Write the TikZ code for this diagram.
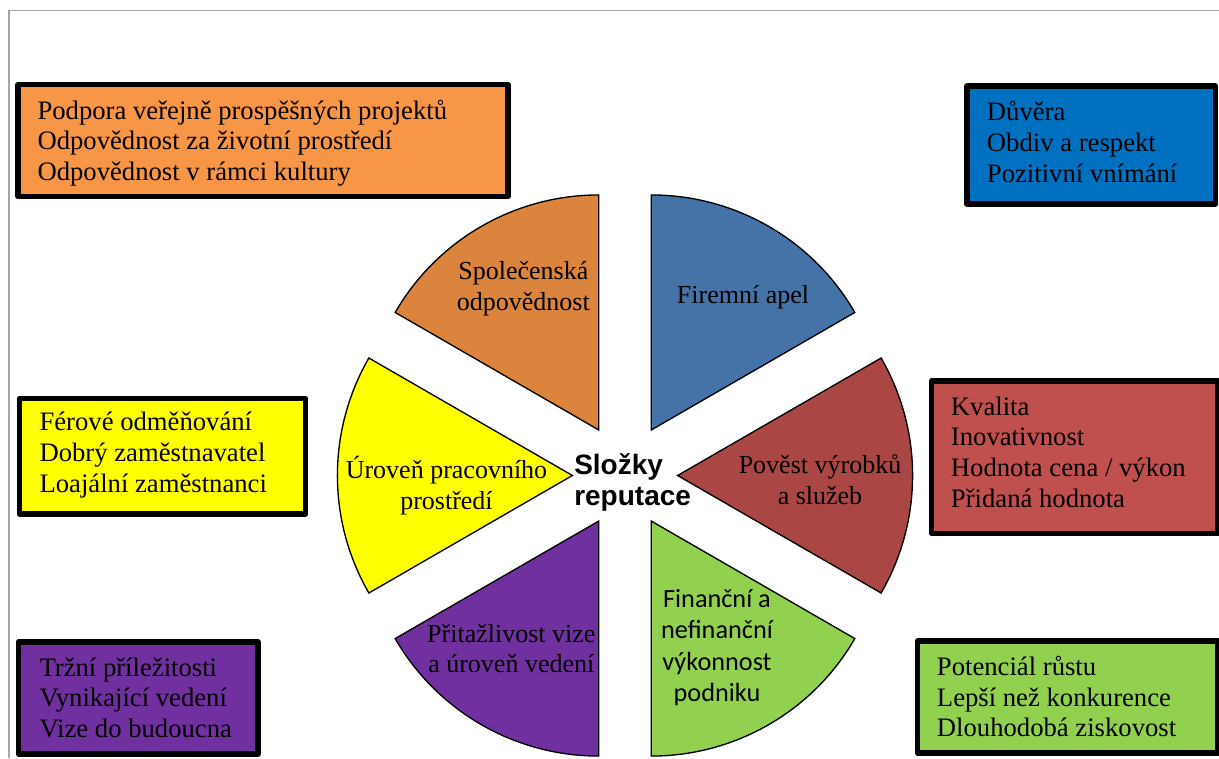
\documentclass[tikz,border=0pt]{standalone}
\usepackage{fontspec}
\setmainfont{Liberation Serif}
\newfontfamily\calfont{Carlito}
\newfontfamily\arialfont{Liberation Sans}
\definecolor{boxorange}{HTML}{F79646}
\definecolor{boxblue}{HTML}{0070C0}
\definecolor{boxred}{HTML}{C0504D}
\definecolor{boxgreen}{HTML}{92D050}
\definecolor{boxyellow}{HTML}{FFFF00}
\definecolor{boxpurple}{HTML}{7030A0}
\definecolor{pieorange}{HTML}{DB843D}
\definecolor{pieblue}{HTML}{4572A7}
\definecolor{piered}{HTML}{AA4643}
\definecolor{piegreen}{HTML}{92D050}
\definecolor{pieyellow}{HTML}{FFFF00}
\definecolor{piepurple}{HTML}{7030A0}
\definecolor{framegray}{HTML}{A6A6A6}
\begin{document}
\begin{tikzpicture}[x=0.75pt,y=-0.75pt,
  infobox/.style={draw=black, line width=4pt, line join=round, inner sep=0pt, outer sep=0pt},
  boxtext/.style={anchor=west, align=left, inner sep=0pt, font=\fontsize{20pt}{23pt}\selectfont},
  sector/.style={draw=black, line width=1pt},
  pielabel/.style={align=center, inner sep=0pt, font=\fontsize{19.5pt}{23pt}\selectfont},
]
\useasboundingbox (0,0) rectangle (1219,758);
\draw[framegray, line width=0.9pt] (9,758) -- (9,10.5) -- (1219,10.5);

% pie sectors
\begin{scope}[shift={(625,475.5)}, yscale=-1]
  \foreach \a/\c in {120/pieorange, 60/pieblue, 0/piered, -60/piegreen, 240/piepurple, 180/pieyellow}{
    \pgfmathsetmacro{\sa}{\a+30}
    \pgfmathsetmacro{\ea}{\a-30}
    \filldraw[sector, fill=\c] (\a:52.6) -- ++(\sa:235) arc[start angle=\sa, end angle=\ea, radius=235] -- cycle;
  }
\end{scope}

% pie labels
\node[pielabel] (lspol) at (523.3,288.8) {Společenská\\odpovědnost};
\node[pielabel] (lfir) at (743,297.6) {Firemní apel};
\node[pielabel] (lurov) at (446.5,485.7) {Úroveň pracovního\\prostředí};
\node[pielabel] (lpov) at (820,479.8) {Pověst výrobků\\a služeb};
\node[pielabel] (lpri) at (511.3,648.4) {Přitažlivost vize\\a úroveň vedení};
\node[align=center, inner sep=0pt, font=\calfont\fontsize{19.7pt}{23.5pt}\selectfont] (lfin) at (717,647.4) {Finanční a\\nefinanční\\výkonnost\\podniku};
\node[anchor=west, align=left, inner sep=0pt, font=\arialfont\bfseries\fontsize{21pt}{23pt}\selectfont] (center) at (574,482.7) {Složky\\reputace};

% boxes
\node[infobox, fill=boxorange, minimum width=367.5pt, minimum height=83.7pt] (borange) at (263,140.5) {};
\node[infobox, fill=boxblue, minimum width=186.45pt, minimum height=88.5pt] (bblue) at (1091.3,145) {};
\node[infobox, fill=boxred, minimum width=214.7pt, minimum height=114.2pt] (bred) at (1074.8,457.2) {};
\node[infobox, fill=boxgreen, minimum width=225.2pt, minimum height=84pt] (bgreen) at (1067.8,697) {};
\node[infobox, fill=boxyellow, minimum width=214.8pt, minimum height=86.5pt] (byellow) at (162.5,456.3) {};
\node[infobox, fill=boxpurple, minimum width=179.8pt, minimum height=84pt] (bpurple) at (138.2,698) {};

\node[boxtext] (torange) at (37.3,143.2) {Podpora veřejně prospěšných projektů\\Odpovědnost za životní prostředí\\Odpovědnost v rámci kultury};
\node[boxtext] (tblue) at (986.7,142) {Důvěra\\Obdiv a respekt\\Pozitivní vnímání};
\node[boxtext] (tred) at (950.7,451.9) {Kvalita\\Inovativnost\\Hodnota cena / výkon\\Přidaná hodnota};
\node[boxtext] (tgreen) at (936.7,696.6) {Potenciál růstu\\Lepší než konkurence\\Dlouhodobá ziskovost};
\node[boxtext] (tyellow) at (39.3,455.2) {Férové odměňování\\Dobrý zaměstnavatel\\Loajální zaměstnanci};
\node[boxtext] (tpurple) at (39.3,697.6) {Tržní příležitosti\\Vynikající vedení\\Vize do budoucna};
\end{tikzpicture}
\end{document}
